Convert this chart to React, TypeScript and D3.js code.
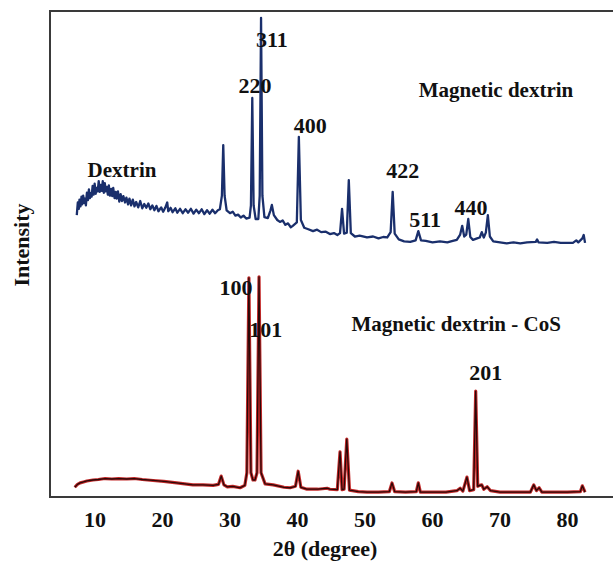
import * as d3 from 'd3'

const W = 613
const H = 571
const FRAME = { left: 50, top: 11, bottom: 497, right: 613 }

// 2θ (degree) vs intensity (arb. units)
const dextrinPattern: [number, number][] = [
  [7.3, 58.0], [7.45, 60.6], [7.6, 59.3], [7.7, 61.2], [7.85, 59.8], [8.0, 61.8], [8.1, 60.2],
  [8.25, 62.0], [8.4, 60.5], [8.5, 61.4], [8.65, 60.0], [8.8, 62.6], [8.95, 61.1], [9.1, 63.3],
  [9.25, 61.5], [9.4, 62.5], [9.5, 61.8], [9.65, 64.0], [9.8, 62.2], [9.95, 64.5], [10.1, 62.4],
  [10.25, 63.6], [10.4, 62.9], [10.55, 65.0], [10.7, 62.8], [10.85, 64.2], [11.0, 63.0],
  [11.15, 65.0], [11.3, 62.6], [11.45, 64.6], [11.6, 62.9], [11.75, 63.8], [11.9, 62.2],
  [12.05, 64.1], [12.2, 62.0], [12.4, 63.4], [12.55, 61.9], [12.7, 63.6], [12.9, 61.5],
  [13.05, 62.8], [13.2, 61.4], [13.4, 62.9], [13.6, 60.8], [13.8, 62.3], [14.0, 60.9],
  [14.2, 61.9], [14.45, 60.6], [14.65, 61.6], [14.9, 60.2], [15.1, 61.4], [15.35, 60.0],
  [15.6, 61.2], [15.85, 59.8], [16.1, 60.7], [16.4, 59.6], [16.7, 60.9], [17.0, 59.4],
  [17.3, 60.3], [17.6, 59.5], [17.9, 60.4], [18.2, 59.2], [18.5, 60.0], [18.8, 59.0],
  [19.1, 59.9], [19.4, 58.8], [19.8, 59.6], [20.1, 58.7], [20.4, 59.5], [20.7, 60.6],
  [20.85, 58.8], [21.2, 59.5], [21.5, 58.6], [21.9, 59.4], [22.2, 58.5], [22.6, 59.3],
  [23.0, 58.4], [23.4, 59.2], [23.8, 58.5], [24.2, 59.3], [24.6, 58.3], [25.0, 59.1],
  [25.4, 58.4], [25.8, 59.2], [26.2, 58.2], [26.6, 59.0], [27.0, 58.3], [27.4, 59.1],
  [27.8, 58.4], [28.2, 59.0], [28.5, 59.2],
  [28.8, 62.0], [29.0, 72.4], [29.2, 62.0], [29.5, 59.0], [30.0, 58.4], [30.4, 58.7], [30.8, 57.9],
  [31.2, 58.1], [31.6, 57.5], [32.0, 57.9], [32.4, 57.3], [32.9, 57.5], [33.1, 60.0], [33.3, 82.1],
  [33.5, 60.0], [33.8, 57.2], [34.2, 57.2], [34.4, 62.0], [34.6, 98.6], [34.8, 62.0], [35.1, 57.6],
  [35.6, 57.4], [36.0, 59.0], [36.2, 60.1], [36.5, 58.0], [37.0, 57.0], [37.4, 56.6], [37.8, 56.9],
  [38.2, 56.0], [38.6, 56.3], [39.0, 55.5], [39.3, 55.8], [39.9, 56.5], [40.2, 74.1], [40.5, 57.0],
  [41.0, 55.4], [41.6, 55.1], [42.3, 54.7], [42.9, 55.0], [43.5, 54.5], [44.2, 54.6], [44.8, 54.1],
  [45.4, 54.3], [45.9, 53.9], [46.3, 54.3], [46.6, 59.3], [46.9, 54.2], [47.3, 54.4], [47.6, 65.2],
  [47.9, 54.3], [48.5, 53.6], [49.2, 53.8], [50.3, 53.4], [51.2, 53.6], [52.0, 53.2], [52.7, 53.5],
  [53.3, 53.4], [53.8, 54.5], [54.1, 62.8], [54.4, 54.2], [55.0, 53.0], [55.8, 52.6], [56.7, 52.5],
  [57.5, 52.8], [57.9, 54.7], [58.3, 52.8], [59.0, 52.7], [60.0, 52.4], [61.1, 52.6], [62.2, 52.4],
  [63.0, 52.7], [63.6, 52.9], [64.1, 54.0], [64.4, 55.8], [64.7, 53.6], [65.0, 54.0], [65.3, 57.2],
  [65.6, 53.5], [66.0, 52.9], [66.6, 53.2], [67.0, 53.4], [67.3, 54.5], [67.6, 53.4], [67.9, 54.4],
  [68.2, 58.0], [68.5, 53.6], [69.0, 52.6], [70.0, 52.4], [71.0, 52.2], [72.0, 52.4], [73.0, 52.2],
  [74.0, 52.4], [75.3, 52.5], [75.5, 53.0], [75.7, 52.4], [77.0, 52.3], [78.0, 52.5], [79.0, 52.3],
  [80.8, 52.3], [81.3, 52.8], [81.6, 52.4], [82.2, 53.2], [82.4, 53.9], [82.6, 52.3],
]

const cosPattern: [number, number][] = [
  [7.0, 2.0], [7.4, 2.6], [7.8, 2.9], [8.3, 3.1], [8.8, 3.3], [9.7, 3.5], [10.5, 3.6], [11.5, 3.8],
  [12.5, 3.7], [13.5, 3.8], [14.7, 3.7], [15.8, 3.8], [17.0, 3.6], [18.6, 3.4], [20.2, 3.2],
  [22.1, 2.9], [24.5, 2.5], [26.0, 2.5], [27.5, 2.4], [28.3, 2.6], [28.7, 4.3], [29.1, 2.5],
  [29.6, 2.1], [30.4, 2.2], [31.5, 1.9], [32.2, 2.4], [32.5, 5.0], [32.8, 45.1], [33.1, 5.0],
  [33.4, 3.5], [33.7, 3.5], [34.0, 5.0], [34.3, 45.3], [34.6, 5.0], [35.2, 2.7], [36.4, 2.5],
  [38.0, 2.0], [38.9, 1.9], [39.7, 2.2], [40.1, 5.3], [40.5, 2.0], [41.4, 1.6], [43.0, 1.6],
  [44.4, 1.8], [44.8, 1.6], [45.9, 1.5], [46.3, 9.3], [46.6, 1.5], [46.9, 1.6], [47.3, 11.9],
  [47.7, 1.4], [49.0, 1.1], [50.3, 1.0], [52.0, 1.0], [53.6, 1.1], [54.0, 2.9], [54.4, 1.1],
  [56.0, 1.0], [57.6, 1.1], [57.9, 2.9], [58.2, 1.0], [60.0, 1.0], [62.0, 1.0], [63.6, 1.3],
  [64.1, 1.8], [64.5, 1.2], [65.1, 4.1], [65.5, 1.3], [66.1, 1.5], [66.4, 21.8], [66.7, 2.2],
  [67.0, 2.4], [67.3, 2.5], [67.6, 1.6], [68.1, 2.1], [68.6, 1.3], [70.0, 1.0], [72.0, 1.0],
  [74.5, 1.0], [75.0, 2.5], [75.4, 1.3], [75.8, 1.9], [76.2, 1.0], [78.0, 1.0], [80.0, 1.0],
  [81.9, 1.1], [82.2, 2.3], [82.6, 1.0],
]

const xTicks = [10, 20, 30, 40, 50, 60, 70, 80]

// text labels: [2θ at centre, intensity at text baseline, text]
const dextrinLabels: [number, number, string][] = [
  [33.7, 83.1, '220'], [36.2, 92.6, '311'], [41.9, 74.9, '400'],
  [55.6, 65.6, '422'], [58.9, 55.6, '511'], [65.7, 58.0, '440'],
]
const cosLabels: [number, number, string][] = [
  [30.9, 41.6, '100'], [35.3, 32.9, '101'], [67.9, 24.1, '201'],
]
const seriesNames: [number, number, string][] = [
  [14.0, 65.8, 'Dextrin'], [69.4, 82.3, 'Magnetic dextrin'], [63.5, 34.2, 'Magnetic dextrin - CoS'],
]

const FONT = '"Liberation Serif", "Times New Roman", serif'

export default function App() {
  const x = d3.scaleLinear().domain([10, 80]).range([95, 567.5])
  const y = d3.scaleLinear().domain([0, 100]).range([FRAME.bottom, FRAME.top])
  const line = d3.line<[number, number]>().x(d => x(d[0])).y(d => y(d[1]))

  const label = (d: [number, number, string], i: number, size: number) => (
    <text key={i} x={x(d[0])} y={y(d[1])} textAnchor="middle" fontFamily={FONT}
      fontWeight="bold" fontSize={size} fill="#111">{d[2]}</text>
  )

  return (
    <svg width={W} height={H} style={{ position: 'absolute', left: 0, top: 0, background: '#fff' }}>
      {/* frame, open at the right */}
      <path d={`M${FRAME.right},${FRAME.top}H${FRAME.left}V${FRAME.bottom}H${FRAME.right}`}
        fill="none" stroke="#3a3a3a" strokeWidth={2} />

      <path d={line(dextrinPattern) ?? ''} fill="none" stroke="#1a2f6c" strokeWidth={2.3}
        strokeLinejoin="round" />
      <path d={line(cosPattern) ?? ''} fill="none" stroke="#c42a2a" strokeWidth={3.2}
        strokeLinejoin="round" />
      <path d={line(cosPattern) ?? ''} fill="none" stroke="#2a0808" strokeWidth={1.3}
        strokeLinejoin="round" />

      {dextrinLabels.map((d, i) => label(d, i, 22))}
      {cosLabels.map((d, i) => label(d, i, 22))}
      {seriesNames.map((d, i) => label(d, i, 21))}

      {xTicks.map(t => (
        <text key={t} x={x(t)} y={527} textAnchor="middle" fontFamily={FONT} fontWeight="bold"
          fontSize={22} fill="#111">{t}</text>
      ))}
      <text x={325} y={556} textAnchor="middle" fontFamily={FONT} fontWeight="bold" fontSize={22}
        fill="#111">2θ (degree)</text>
      <text transform="translate(29,245) rotate(-90)" textAnchor="middle" fontFamily={FONT}
        fontWeight="bold" fontSize={22} fill="#111">Intensity</text>
    </svg>
  )
}
